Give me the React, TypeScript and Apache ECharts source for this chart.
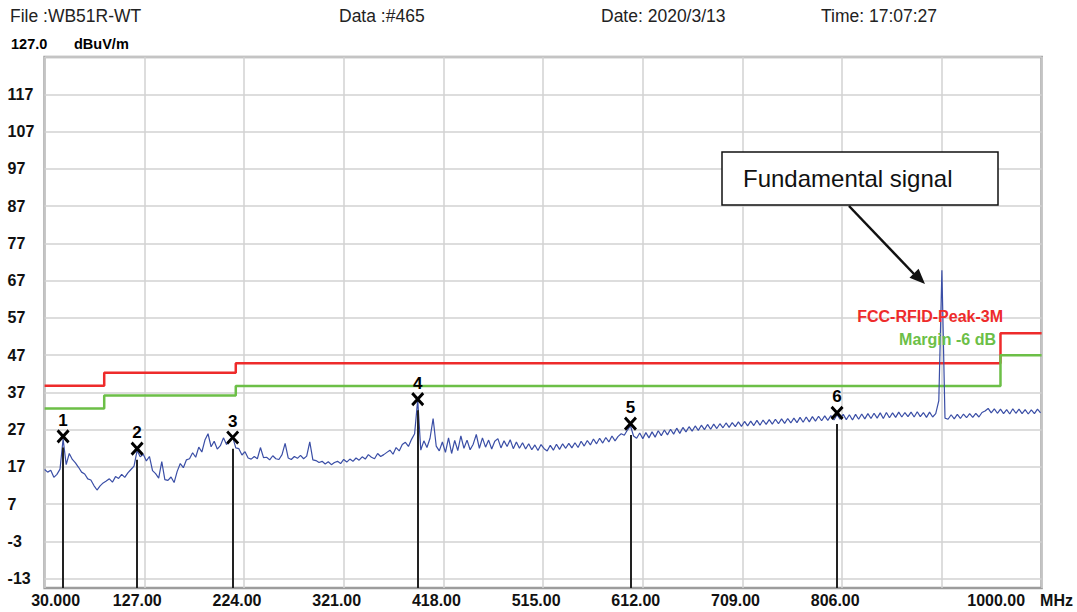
import React, { useEffect, useRef } from "react";
import * as echarts from "echarts";

// Axis layout values
const FREQ_MIN = 30;
const FREQ_MAX = 1000;
const FREQ_STEP = 97;
const LEVEL_MIN = -15.5;
const LEVEL_MAX = 127;
const levelTicks = [-13, -3, 7, 17, 27, 37, 47, 57, 67, 77, 87, 97, 107, 117, 127];
const levelLabels = [-13, -3, 7, 17, 27, 37, 47, 57, 67, 77, 87, 97, 107, 117];

// Sweep: first point and spacing (MHz)
const sweepStart = 30;
const sweepStep = 3;

// Measured level (dBuV/m) for each sweep point
const traceLevels = [
  16.3, 15.6, 16.1, 14.2, 15.0, 16.4, 24.5, 17.6, 20.6, 19.0,
  18.1, 16.9, 15.6, 15.1, 13.8, 13.5, 12.0, 10.8, 11.9, 12.7,
  13.2, 13.8, 12.9, 14.4, 13.9, 15.0, 14.2, 15.4, 16.3, 17.2,
  21.4, 19.7, 20.4, 18.6, 19.8, 16.0, 15.2, 14.0, 18.4, 13.6,
  13.4, 14.3, 12.8, 15.8, 17.9, 16.8, 18.9, 19.2, 20.8, 19.6,
  22.3, 21.0, 24.2, 25.9, 22.4, 23.9, 21.8, 22.7, 24.8, 23.0,
  24.3, 25.0, 22.1, 21.9, 20.2, 21.1, 19.4, 19.1, 19.8, 19.2,
  22.2, 19.5, 19.6, 18.9, 20.0, 19.2, 19.0, 20.3, 23.3, 19.4,
  19.0, 19.8, 19.3, 20.1, 19.2, 19.9, 23.7, 18.9, 18.7, 18.2,
  18.5, 17.8, 18.4, 17.6, 18.2, 18.5, 17.9, 19.0, 18.3, 19.1,
  18.5, 19.4, 18.8, 19.7, 19.1, 20.3, 19.6, 19.2, 20.6, 19.8,
  20.3, 20.9, 21.5, 20.4, 22.2, 21.3, 23.0, 23.6, 22.5, 24.4,
  25.9, 35.0, 21.5, 24.0, 22.2, 24.7, 30.0, 22.6, 21.3, 23.7,
  20.9, 24.8, 20.6, 24.1, 21.4, 25.3, 22.0, 24.2, 21.6, 23.1,
  25.7, 22.0, 24.8, 22.3, 24.2, 21.8, 23.9, 24.6, 22.1, 24.0,
  22.5, 24.3, 21.9, 23.7, 22.0, 23.5, 21.8, 23.2, 21.6, 22.9,
  21.4, 23.0, 21.9, 21.3, 22.8, 21.5, 23.1, 21.7, 23.2, 22.0,
  23.3, 22.1, 23.5, 22.2, 23.9, 22.6, 24.1, 22.9, 24.5, 23.2,
  24.7, 23.4, 24.9, 23.7, 25.3, 24.0, 25.2, 25.9, 25.5, 26.9,
  28.0, 25.3, 24.7, 26.1, 24.6, 26.2, 24.8, 26.4, 25.0, 26.7,
  25.4, 26.9, 25.6, 27.1, 25.8, 27.4, 26.0, 27.6, 26.4, 27.8,
  26.6, 28.0, 26.8, 28.2, 27.0, 28.4, 27.1, 28.5, 27.3, 28.6,
  27.5, 28.8, 27.6, 28.9, 27.8, 29.1, 27.9, 29.2, 28.0, 29.3,
  28.1, 29.5, 28.2, 29.6, 28.4, 29.7, 28.5, 29.8, 28.6, 29.9,
  28.7, 30.0, 28.8, 30.1, 28.9, 30.3, 29.0, 30.4, 29.1, 30.5,
  29.3, 30.6, 29.4, 30.7, 29.5, 30.8, 29.6, 31.0, 29.8, 31.1,
  29.7, 31.0, 29.6, 31.1, 29.8, 31.2, 29.9, 31.3, 30.0, 31.4,
  30.1, 31.5, 30.0, 31.6, 30.2, 31.5, 30.3, 31.7, 30.4, 31.6,
  30.5, 31.7, 30.4, 31.8, 30.5, 31.6, 30.3, 31.7, 30.4, 31.3,
  34.8, 69.8, 30.1, 29.8, 31.0, 29.9, 31.1, 30.0, 31.2, 30.2,
  31.3, 30.3, 31.4, 30.4, 31.6, 32.0, 32.7, 31.5, 32.6, 31.4,
  32.5, 31.3, 32.4, 31.2, 32.6, 31.4, 32.5, 31.3, 32.4, 31.2,
  32.3, 31.3, 32.5, 31.5,
];

// Limit lines (step at each break frequency)
const limitFreqs = [30, 88, 216, 960, 1000];
const limitPeak = [38.8, 42.3, 44.8, 52.9, 52.9];
const limitMargin = [32.7, 36.2, 38.7, 47.0, 47.0];

// Markers
const markerNames = ["1", "2", "3", "4", "5", "6"];
const markerFreqs = [48, 120, 213, 393, 600, 801];
const markerLevels = [25.2, 21.9, 24.9, 35.2, 28.6, 31.5];

const BLUE = "#3a4ea6";
const RED = "#ee2b2b";
const GREEN = "#6cbf47";
const FAMILY = "Liberation Sans, Arial, sans-serif";

function buildOption(): echarts.EChartsOption {
  const trace = traceLevels.map((v, i) => [sweepStart + i * sweepStep, v]);
  const peak = limitFreqs.map((f, i) => [f, limitPeak[i]]);
  const margin = limitFreqs.map((f, i) => [f, limitMargin[i]]);
  const markerPts = markerFreqs.map((f, i) => ({
    name: markerNames[i],
    value: [f, markerLevels[i]],
  }));
  const markerStems = markerFreqs.map((f, i) => ({
    coords: [
      [f, LEVEL_MIN],
      [f, markerLevels[i] - 3],
    ],
  }));

  const labelFont = { fontFamily: FAMILY, fontWeight: "bold" as const, fontSize: 16, color: "#111" };

  return {
    animation: false,
    backgroundColor: "#ffffff",
    grid: {
      left: 44.6,
      right: 35.4,
      top: 57.1,
      bottom: 24,
      show: true,
      borderColor: "#9c9c9c",
      borderWidth: 2.5,
      backgroundColor: "transparent",
    },
    xAxis: {
      type: "value",
      min: FREQ_MIN,
      max: FREQ_MAX,
      interval: FREQ_STEP,
      axisLine: { show: false },
      axisTick: { show: false },
      splitLine: { show: true, lineStyle: { color: "#d2d2d2", width: 1.5 } },
      axisLabel: {
        interval: 0,
        margin: 4,
        ...labelFont,
        formatter: (v: number) => {
          const r = Math.round(v);
          if (r === 30) return "{first|30.000}";
          if (r === 1000) return "{mid0|1000.00}{unit|MHz}";
          if (r === 903) return "";
          return "{mid|" + r.toFixed(2) + "}";
        },
        rich: {
          first: { ...labelFont, padding: [0, 0, 0, 22] },
          mid: { ...labelFont, padding: [0, 14, 0, 0] },
          mid0: { ...labelFont },
          unit: { ...labelFont, padding: [0, 43, 0, 15] },
        },
      },
    },
    yAxis: {
      type: "value",
      min: LEVEL_MIN,
      max: LEVEL_MAX,
      axisLine: { show: false },
      axisTick: { show: false, customValues: levelTicks },
      splitLine: { show: true, lineStyle: { color: "#d2d2d2", width: 1.5 } },
      axisLabel: {
        customValues: levelLabels,
        align: "left",
        margin: 37,
        ...labelFont,
      },
    },
    graphic: [
      { type: "text", x: 10, y: 16, style: { text: "File :WB51R-WT", font: `17.5px ${FAMILY}`, fill: "#222", verticalAlign: "middle" } },
      { type: "text", x: 339, y: 16, style: { text: "Data :#465", font: `17.5px ${FAMILY}`, fill: "#222", verticalAlign: "middle" } },
      { type: "text", x: 601, y: 16, style: { text: "Date: 2020/3/13", font: `17.5px ${FAMILY}`, fill: "#222", verticalAlign: "middle" } },
      { type: "text", x: 821, y: 16, style: { text: "Time: 17:07:27", font: `17.5px ${FAMILY}`, fill: "#222", verticalAlign: "middle" } },
      { type: "text", x: 11, y: 44, style: { text: "127.0", font: `bold 14.5px ${FAMILY}`, fill: "#000", verticalAlign: "middle" } },
      { type: "text", x: 74, y: 44, style: { text: "dBuV/m", font: `bold 14.5px ${FAMILY}`, fill: "#000", verticalAlign: "middle" } },
      { type: "text", x: 1003, y: 316, z: 20, style: { text: "FCC-RFID-Peak-3M", font: `bold 16px ${FAMILY}`, fill: RED, align: "right", verticalAlign: "middle" } },
      { type: "text", x: 996, y: 339, z: 20, style: { text: "Margin -6 dB", font: `bold 16px ${FAMILY}`, fill: GREEN, align: "right", verticalAlign: "middle" } },
      { type: "rect", z: 20, shape: { x: 722, y: 152, width: 276, height: 53 }, style: { fill: "#fff", stroke: "#111", lineWidth: 1.5 } },
      { type: "text", x: 743, y: 178, z: 21, style: { text: "Fundamental signal", font: `24px ${FAMILY}`, fill: "#111", verticalAlign: "middle" } },
      { type: "line", z: 20, shape: { x1: 849, y1: 206, x2: 914, y2: 274 }, style: { stroke: "#111", lineWidth: 2.5 } },
      { type: "polygon", z: 20, shape: { points: [[925, 284], [909.5, 277.7], [918.6, 268.8]] }, style: { fill: "#111" } },
    ],
    series: [
      {
        type: "line",
        name: "FCC-RFID-Peak-3M",
        data: peak,
        step: "end",
        symbol: "none",
        lineStyle: { color: RED, width: 2.5 },
        z: 2,
      },
      {
        type: "line",
        name: "Margin -6 dB",
        data: margin,
        step: "end",
        symbol: "none",
        lineStyle: { color: GREEN, width: 2.5 },
        z: 2,
      },
      {
        type: "line",
        name: "Trace",
        data: trace,
        symbol: "none",
        lineStyle: { color: BLUE, width: 1.2 },
        z: 3,
      },
      {
        type: "lines",
        coordinateSystem: "cartesian2d",
        data: markerStems,
        lineStyle: { color: "#222", width: 2, opacity: 1 },
        z: 4,
      },
      {
        type: "scatter",
        data: markerPts,
        symbol: "path://M0,0L10,11M10,0L0,11",
        symbolSize: [11, 12],
        itemStyle: { color: "transparent", borderColor: "#000", borderWidth: 3, opacity: 1 },
        label: {
          show: true,
          position: "top",
          distance: 0,
          formatter: (p: any) => p.name,
          fontFamily: FAMILY,
          fontWeight: "bold",
          fontSize: 17,
          color: "#000",
        },
        z: 5,
      },
    ],
  };
}

export default function App() {
  const ref = useRef<HTMLDivElement>(null);
  useEffect(() => {
    document.body.style.margin = "0";
    if (!ref.current) return;
    const chart = echarts.init(ref.current, undefined, { renderer: "svg" });
    chart.setOption(buildOption());
    return () => chart.dispose();
  }, []);
  return <div ref={ref} style={{ width: 1077, height: 612, background: "#fff" }} />;
}
